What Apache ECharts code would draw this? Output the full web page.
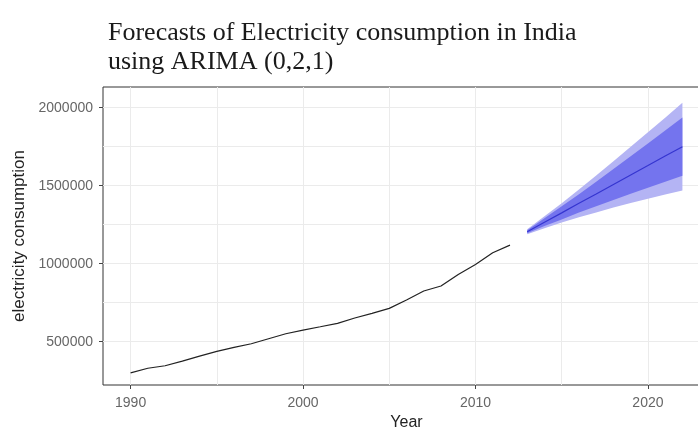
<!DOCTYPE html>
<html>
<head>
<meta charset="utf-8">
<script src="https://cdn.jsdelivr.net/npm/echarts@6/dist/echarts.min.js"></script>
<style>html,body{margin:0;padding:0;background:#fff;}#c{width:698px;height:432px;}</style>
</head>
<body>
<div id="c"></div>
<script>
// Historical data
const years = [1990,1991,1992,1993,1994,1995,1996,1997,1998,1999,2000,2001,2002,2003,2004,2005,2006,2007,2008,2009,2010,2011,2012];
const consumption = [301000,330000,346000,376000,408000,438000,464000,487000,519000,551000,575000,596000,618000,652000,682000,714000,767000,825000,857000,931000,995000,1070000,1119000];

// Forecast (ARIMA(0,2,1))
const fYears = [2013,2014,2015,2016,2017,2018,2019,2020,2021,2022];
const fPoint = [1205000,1266000,1326000,1387000,1447000,1508000,1569000,1629000,1690000,1750000];
const lo80 = [1195000,1241000,1284000,1328000,1368000,1409000,1449000,1487000,1526000,1563000];
const hi80 = [1215000,1291000,1368000,1446000,1526000,1607000,1689000,1771000,1854000,1937000];
const lo95 = [1189000,1228000,1264000,1298000,1329000,1360000,1389000,1416000,1444000,1469000];
const hi95 = [1221000,1304000,1388000,1476000,1565000,1656000,1749000,1842000,1936000,2031000];

const xTicks = [1990,2000,2010,2020];
const xGrid = [1990,1995,2000,2005,2010,2015,2020];
const yTicks = [500000,1000000,1500000,2000000];
const yGrid = [500000,750000,1000000,1250000,1500000,1750000,2000000];

const X_MIN = 1988.4, X_MAX = 2023.6, Y_MIN = 222800, Y_MAX = 2132500;

const pairs = (xs, ys) => xs.map((x, i) => [x, ys[i]]);

function bandSeries(lo, hi, color) {
  return {
    type: 'custom', silent: true,
    data: fYears.map((y, i) => [y, lo[i], hi[i]]),
    encode: {x: 0, y: [1, 2]},
    renderItem: function (params, api) {
      if (params.dataIndex !== 0) return null;
      const pts = [];
      for (let i = 0; i < fYears.length; i++) pts.push(api.coord([fYears[i], hi[i]]));
      for (let i = fYears.length - 1; i >= 0; i--) pts.push(api.coord([fYears[i], lo[i]]));
      return {type: 'polygon', shape: {points: pts}, style: {fill: color}};
    }
  };
}

const chart = echarts.init(document.getElementById('c'), null, {renderer: 'canvas'});
const sans = 'Liberation Sans';
chart.setOption({
  animation: false,
  backgroundColor: '#ffffff',
  title: {
    text: 'Forecasts of Electricity consumption in India\nusing ARIMA (0,2,1)',
    left: 103, top: 14,
    textStyle: {fontFamily: 'Liberation Serif', fontSize: 26, fontWeight: 'normal', color: '#1a1a1a', lineHeight: 29}
  },
  grid: {left: 103, right: -12, top: 87, bottom: 47, outerBoundsMode: 'none', containLabel: false,
         show: true, borderColor: '#333333', borderWidth: 1, backgroundColor: '#ffffff'},
  xAxis: [{
    type: 'value', min: X_MIN, max: X_MAX, position: 'bottom',
    name: 'Year', nameLocation: 'middle', nameGap: 29,
    nameTextStyle: {fontFamily: sans, fontSize: 16, color: '#222222'},
    axisLine: {show: false},
    axisTick: {show: true, length: 4, lineStyle: {color: '#444444'}, customValues: xTicks},
    axisLabel: {fontFamily: sans, fontSize: 14, color: '#666666', margin: 11, customValues: xTicks,
                formatter: v => String(v)},
    splitLine: {show: false}
  }, {
    type: 'value', min: X_MIN, max: X_MAX, position: 'top',
    axisLine: {show: false}, axisLabel: {show: false},
    axisTick: {show: false, customValues: xGrid},
    splitLine: {show: true, lineStyle: {color: '#ebebeb', width: 1}}
  }],
  yAxis: [{
    type: 'value', min: Y_MIN, max: Y_MAX, position: 'left',
    name: 'electricity consumption', nameLocation: 'middle', nameGap: 74, nameRotate: 90,
    nameTextStyle: {fontFamily: sans, fontSize: 17, color: '#222222'},
    axisLine: {show: false},
    axisTick: {show: true, length: 4, lineStyle: {color: '#444444'}, customValues: yTicks},
    axisLabel: {fontFamily: sans, fontSize: 14, color: '#666666', margin: 10, customValues: yTicks,
                formatter: v => String(v)},
    splitLine: {show: false}
  }, {
    type: 'value', min: Y_MIN, max: Y_MAX, position: 'right',
    axisLine: {show: false}, axisLabel: {show: false},
    axisTick: {show: false, customValues: yGrid},
    splitLine: {show: true, lineStyle: {color: '#ebebeb', width: 1}}
  }],
  series: [
    bandSeries(lo95, hi95, '#b4b4f4'),
    bandSeries(lo80, hi80, '#7474ee'),
    {type: 'line', data: pairs(fYears, fPoint), symbol: 'none', lineStyle: {color: '#3535d0', width: 1.2}},
    {type: 'line', data: pairs(years, consumption), symbol: 'none', lineStyle: {color: '#222222', width: 1.2}}
  ]
});
</script>
</body>
</html>
